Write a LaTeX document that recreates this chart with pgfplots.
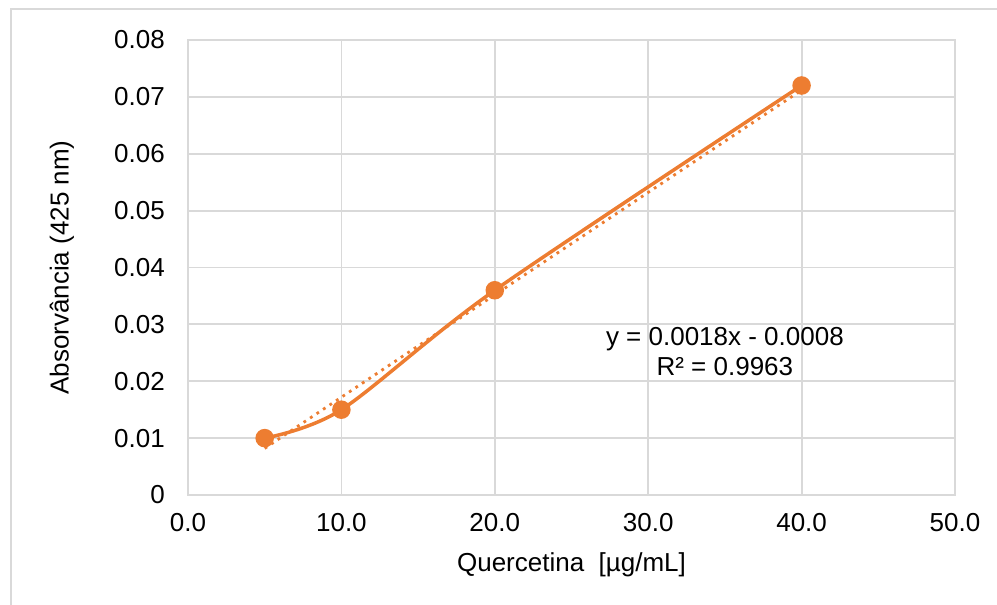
\documentclass[border=0pt]{standalone}
\usepackage{pgfplots}
\pgfplotsset{compat=1.18}
\usepackage{fontspec}
\setmainfont{Liberation Sans}
\definecolor{serie}{HTML}{ED7D31}
\definecolor{grade}{HTML}{D9D9D9}

\begin{document}
\begin{tikzpicture}[x=1pt,y=1pt]
\path[use as bounding box] (0,0) rectangle (997,605);
\draw[grade, line width=2pt] (11,0) -- (11,595.5) -- (997,595.5);
\begin{axis}[
    at={(188pt,110pt)}, anchor=south west,
    scale only axis,
    width=767pt, height=455pt,
    xmin=0, xmax=50,
    ymin=0, ymax=0.08,
    scaled y ticks=false,
    xtick={0,10,20,30,40,50},
    xticklabels={0.0,10.0,20.0,30.0,40.0,50.0},
    ytick={0,0.01,0.02,0.03,0.04,0.05,0.06,0.07,0.08},
    yticklabels={0,0.01,0.02,0.03,0.04,0.05,0.06,0.07,0.08},
    font=\fontsize{26}{30}\selectfont,
    tick style={draw=none},
    xticklabel style={anchor=north, inner sep=0pt, yshift=-18pt},
    yticklabel style={anchor=east, inner sep=0pt, xshift=-23pt},
    grid=major,
    grid style={grade, line width=1.8pt},
    axis line style={grade, line width=1.8pt},
    xlabel={Quercetina\ \ [µg/mL]},
    ylabel={Absorvância (425 nm)},
    xlabel style={at={(axis description cs:0.5,-0.1538)}, anchor=center},
    ylabel style={at={(axis description cs:-0.1643,0.5)}, anchor=center, rotate=0},
]
\addplot[serie, line width=3.5pt, smooth, mark=*, mark size=7.5pt, mark options={solid, fill=serie}]
    coordinates {(5,0.010)(10,0.015)(20,0.036)(40,0.072)};
\addplot[serie, line width=2.8pt, dash pattern=on 2.8pt off 5pt]
    coordinates {(5,0.0082)(40,0.0712)};
\node[align=center, font=\fontsize{26}{30}\selectfont] at (axis cs:35,0.0253)
    {y = 0.0018x - 0.0008\\R² = 0.9963};
\end{axis}
\end{tikzpicture}
\end{document}
